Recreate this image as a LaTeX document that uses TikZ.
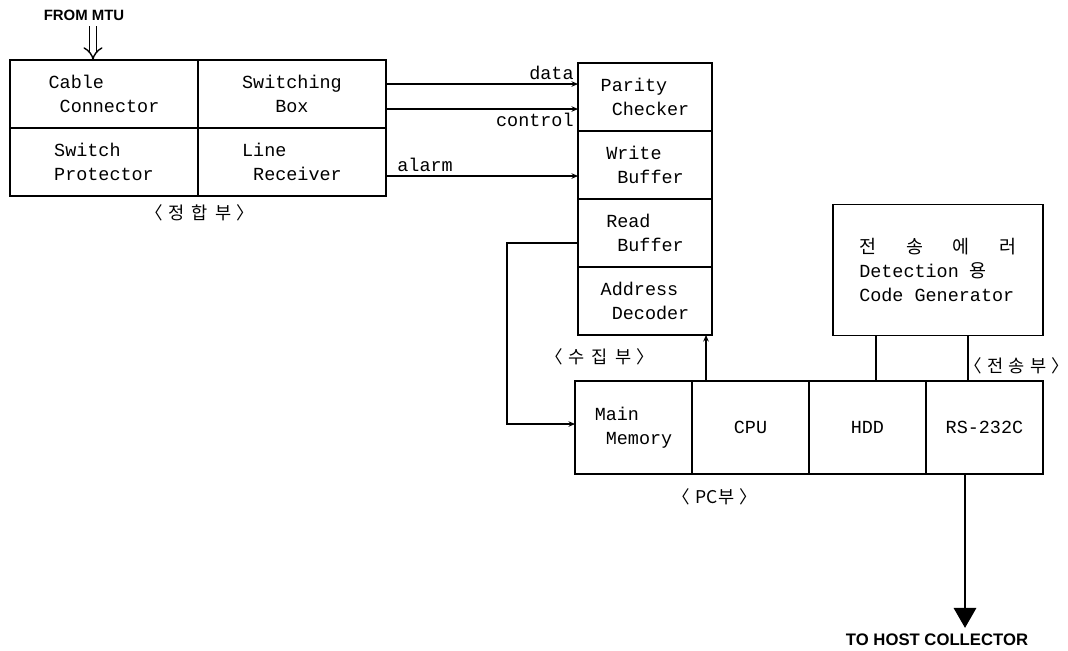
\documentclass[tikz,border=0pt]{standalone}
\usepackage{fontspec}
\setmonofont{Liberation Mono}
\newfontfamily\kor{Noto Sans CJK KR}
\newfontfamily\headfont{Liberation Sans}
\usetikzlibrary{arrows.meta,positioning}

\begin{document}
\begin{tikzpicture}[x=0.02cm, y=-0.02cm,
  lcell/.style={draw, line width=1pt, minimum width=3.76cm, minimum height=1.36cm, align=left, inner sep=0pt, outer sep=0pt, font=\fontsize{10.5}{13.5}\selectfont\ttfamily},
  mcell/.style={lcell, minimum width=2.68cm},
  bcell/.style={lcell, minimum width=2.34cm, minimum height=1.86cm},
  ebox/.style={lcell, minimum width=4.2cm, minimum height=2.62cm},
  sig/.style={line width=1pt, -{Stealth[length=1.3mm,width=1.1mm]}},
  plain/.style={line width=1pt},
  tag/.style={font=\fontsize{10.5}{12}\selectfont\ttfamily, inner sep=2pt},
  part/.style={font=\kor\fontsize{10}{12}\selectfont},
  head/.style={font=\headfont\bfseries\fontsize{8.5}{10}\selectfont},
]
\useasboundingbox (0,0) rectangle (1068,650);

% 정합부
\node[lcell] (cable) at (104,94) {Cable\\\ Connector};
\node[lcell, right=0pt of cable, align=center] (swbox) {Switching\\Box};
\node[lcell, below=0pt of cable] (swprot) {Switch\\Protector};
\node[lcell, right=0pt of swprot] (linerx) {Line\\\ Receiver};
\node[part] (lbl1) at (200,213) {〈\hspace{3pt}정\hspace{4pt}합\hspace{4pt}부\hspace{3pt}〉};

\node[head] (mtu) at (84,15) {FROM MTU};
\draw[line width=0.8pt, double, double distance=3pt, -{Implies}] (mtu.south -| 93,0) -- (cable.north -| 93,0);

% 수집부
\node[mcell] (parity) at (645,97) {Parity\\\ Checker};
\node[mcell, below=0pt of parity] (wbuf) {Write\\\ Buffer};
\node[mcell, below=0pt of wbuf] (rbuf) {Read\\\ Buffer};
\node[mcell, below=0pt of rbuf] (addr) {Address\\\ Decoder};
\node[part] (lbl2) at (600,357) {〈\hspace{3pt}수\hspace{4pt}집\hspace{4pt}부\hspace{3pt}〉};

\draw[sig] (swbox.east |- 0,84) -- (parity.west |- 0,84) node[tag, pos=1, above left] {data};
\draw[sig] (swbox.east |- 0,109) -- (parity.west |- 0,109) node[tag, pos=1, below left] {control};
\draw[sig] (linerx.east |- 0,176) -- (wbuf.west |- 0,176) node[tag, pos=0, above right, xshift=4pt] {alarm};

% PC부
\node[bcell] (mainmem) at (633.5,427.5) {Main\\\ Memory};
\node[bcell, right=0pt of mainmem, align=center] (cpu) {CPU};
\node[bcell, right=0pt of cpu, align=center] (hdd) {HDD};
\node[bcell, right=0pt of hdd, align=center] (rs) {RS-232C};
\node[part] (lbl4) at (715,497) {〈\hspace{3pt}PC부\hspace{3pt}〉};

\coordinate (loop) at (507,424);
\draw[sig] (rbuf.west |- 0,243) -| (loop) -- (loop -| mainmem.west);
\draw[sig] (cpu.north -| 706,0) -- (addr.south -| 706,0);

% 전송부
\node[ebox] (coder) at (938,270) {{\kor 전\hspace{17pt}송\hspace{17pt}에\hspace{17pt}러}\\Detection {\kor 용}\\Code Generator};
\node[part] (lbl3) at (1017,366) {〈\hspace{3pt}전\hspace{3pt}송\hspace{3pt}부\hspace{3pt}〉};
\draw[plain] (coder.south -| 876,0) -- (hdd.north -| 876,0);
\draw[plain] (coder.south -| 968,0) -- (rs.north -| 968,0);

\node[head, font=\headfont\bfseries\fontsize{9.5}{11}\selectfont] (host) at (937,640) {TO HOST COLLECTOR};
\draw[line width=1pt, -{Triangle[length=4mm,width=4.5mm]}] (rs.south -| 965,0) -- (host.north -| 965,0);

\end{tikzpicture}
\end{document}
